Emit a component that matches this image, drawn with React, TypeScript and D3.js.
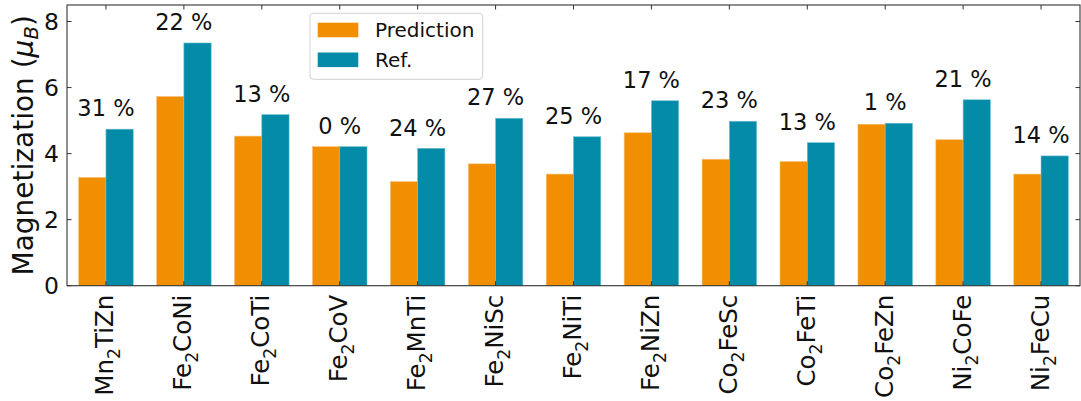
import React from "react";
import * as d3 from "d3";

// Compound names: [element, subscript, rest]
const compounds: [string, string, string][] = [
  ["Mn", "2", "TiZn"],
  ["Fe", "2", "CoNi"],
  ["Fe", "2", "CoTi"],
  ["Fe", "2", "CoV"],
  ["Fe", "2", "MnTi"],
  ["Fe", "2", "NiSc"],
  ["Fe", "2", "NiTi"],
  ["Fe", "2", "NiZn"],
  ["Co", "2", "FeSc"],
  ["Co", "2", "FeTi"],
  ["Co", "2", "FeZn"],
  ["Ni", "2", "CoFe"],
  ["Ni", "2", "FeCu"],
];

// Magnetic moments (μB)
const prediction = [3.28, 5.73, 4.53, 4.21, 3.15, 3.69, 3.38, 4.63, 3.83, 3.76, 4.89, 4.42, 3.38];
const reference = [4.74, 7.35, 5.18, 4.21, 4.16, 5.07, 4.51, 5.60, 4.98, 4.33, 4.92, 5.63, 3.93];

// Relative error labels (%)
const errorPct = [31, 22, 13, 0, 24, 27, 25, 17, 23, 13, 1, 21, 14];

const yTicks = [0, 2, 4, 6, 8];

const W = 1081;
const H = 401;
const left = 67;
const right = 1080;
const top = 5;
const bottom = 285.7;

const ORANGE = "#F18F01";
const TEAL = "#048BA8";
const FONT = "'DejaVu Sans', sans-serif";
const SPINE = "#333";
const TICK = 4.5;
const BAR_W = 0.35;

export default function App() {
  const x = d3.scaleLinear().domain([-0.5, compounds.length - 0.5]).range([left, right]);
  const y = d3.scaleLinear().domain([0, 8.5]).range([bottom, top]);
  const bw = x(BAR_W) - x(0);

  return (
    <svg
      width={W}
      height={H}
      style={{ position: "absolute", left: 0, top: 0, background: "#fff" }}
      fontFamily={FONT}
    >
      {/* bars */}
      {compounds.map((_, i) => (
        <g key={"b" + i}>
          <rect
            x={x(i - BAR_W)}
            y={y(prediction[i])}
            width={bw}
            height={y(0) - y(prediction[i])}
            fill={ORANGE}
            stroke="#f6c07a"
            strokeWidth={0.6}
          />
          <rect
            x={x(i)}
            y={y(reference[i])}
            width={bw}
            height={y(0) - y(reference[i])}
            fill={TEAL}
            stroke="#6fc0d2"
            strokeWidth={0.6}
          />
        </g>
      ))}

      {/* error labels */}
      {compounds.map((_, i) => (
        <text
          key={"p" + i}
          x={x(i)}
          y={y(Math.max(prediction[i], reference[i])) - 12.8}
          textAnchor="middle"
          fontSize={22.5}
          fill="#111"
        >
          {errorPct[i]} %
        </text>
      ))}

      {/* frame */}
      <rect
        x={left}
        y={top}
        width={right - left}
        height={bottom - top}
        fill="none"
        stroke={SPINE}
        strokeWidth={1.1}
      />

      {/* y ticks, left and right, pointing inward */}
      {yTicks.map((t) => (
        <g key={"y" + t}>
          <line x1={left} x2={left + TICK} y1={y(t)} y2={y(t)} stroke={SPINE} strokeWidth={1} />
          <line x1={right - TICK} x2={right} y1={y(t)} y2={y(t)} stroke={SPINE} strokeWidth={1} />
          <text
            x={left - 8}
            y={y(t)}
            dy="0.36em"
            textAnchor="end"
            fontSize={23.5}
            fill="#111"
          >
            {t}
          </text>
        </g>
      ))}

      {/* x ticks, bottom and top, pointing inward */}
      {compounds.map((c, i) => (
        <g key={"x" + i}>
          <line x1={x(i)} x2={x(i)} y1={bottom} y2={bottom - TICK} stroke={SPINE} strokeWidth={1} />
          <line x1={x(i)} x2={x(i)} y1={top} y2={top + TICK} stroke={SPINE} strokeWidth={1} />
          <text
            transform={`translate(${x(i) + 7.5},${bottom + 9}) rotate(-90)`}
            textAnchor="end"
            fontSize={24.5}
            fill="#111"
          >
            <tspan>{c[0]}</tspan>
            <tspan fontSize={17.2} dy={7}>
              {c[1]}
            </tspan>
            <tspan dy={-7}>{c[2]}</tspan>
          </text>
        </g>
      ))}

      {/* y axis title */}
      <text
        transform={`translate(33.3,${(top + bottom) / 2}) rotate(-90)`}
        textAnchor="middle"
        fontSize={28}
        fill="#111"
      >
        <tspan>Magnetization (</tspan>
        <tspan fontStyle="italic">μ</tspan>
        <tspan fontStyle="italic" fontSize={19.6} dy={5}>
          B
        </tspan>
        <tspan dy={-5}>)</tspan>
      </text>

      {/* legend */}
      <g>
        <rect
          x={310}
          y={13.3}
          width={172.7}
          height={66}
          rx={3.5}
          fill="#fff"
          fillOpacity={0.8}
          stroke="#d0d0d0"
          strokeWidth={1}
        />
        <rect x={317.7} y={22.7} width={40.6} height={14.6} fill={ORANGE} />
        <rect x={317.7} y={52.5} width={40.6} height={14.6} fill={TEAL} />
        <text x={375} y={37.3} fontSize={20} fill="#111">
          Prediction
        </text>
        <text x={375} y={66.8} fontSize={20} fill="#111">
          Ref.
        </text>
      </g>
    </svg>
  );
}
